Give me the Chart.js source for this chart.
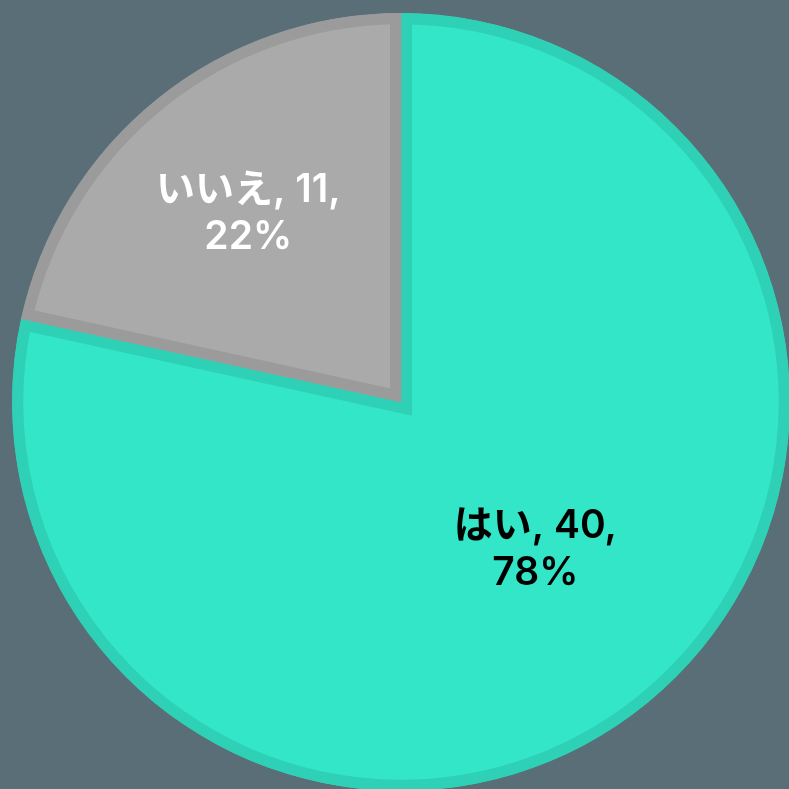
<!DOCTYPE html>
<html>
<head>
<meta charset="utf-8">
<script src="https://cdn.jsdelivr.net/npm/chart.js@4"></script>
<style>
  html, body { margin: 0; padding: 0; width: 789px; height: 789px; overflow: hidden; background: #5a6e78; }
  #wrap { position: absolute; left: 12px; top: 13px; width: 778px; height: 778px; }
</style>
</head>
<body>
<div id="wrap"><canvas id="my-Pie-Chart"></canvas></div>
<script>
// data
const labels = ['はい', 'いいえ'];
const counts = [40, 11];
const percents = [78, 22];
const fillColors = ['#33e6c8', '#aaaaaa'];
const edgeColors = ['#2ed1b5', '#9b9b9b'];
const textColors = ['#000000', '#ffffff'];
const labelDist = [0.51, 0.61];
const labelShift = [[10, -7], [-4, -4]];

// label tulis di tengah potongan
const sliceLabels = {
  id: 'sliceLabels',
  afterDatasetsDraw(chart) {
    const ctx = chart.ctx;
    const meta = chart.getDatasetMeta(0);
    meta.data.forEach((arc, i) => {
      const mid = (arc.startAngle + arc.endAngle) / 2;
      const r = arc.outerRadius * labelDist[i];
      const x = arc.x + Math.cos(mid) * r + labelShift[i][0];
      const y = arc.y + Math.sin(mid) * r + labelShift[i][1];
      ctx.save();
      ctx.font = '600 39px Inter, "Noto Sans CJK JP", sans-serif';
      ctx.fillStyle = textColors[i];
      ctx.textAlign = 'center';
      ctx.textBaseline = 'middle';
      ctx.fillText(`${labels[i]}, ${counts[i]},`, x, y - 23);
      ctx.fillText(`${percents[i]}%`, x, y + 24);
      ctx.restore();
    });
  }
};

const ctx = document.getElementById('my-Pie-Chart').getContext('2d');
new Chart(ctx, {
  type: 'pie',
  data: {
    labels: labels,
    datasets: [{
      data: counts,
      backgroundColor: fillColors,
      borderColor: edgeColors,
      borderWidth: 11,
      borderAlign: 'inner',
      borderJoinStyle: 'miter'
    }]
  },
  options: {
    responsive: true,
    maintainAspectRatio: false,
    animation: false,
    plugins: {
      legend: { display: false },
      tooltip: { enabled: false }
    }
  },
  plugins: [sliceLabels]
});
</script>
</body>
</html>
